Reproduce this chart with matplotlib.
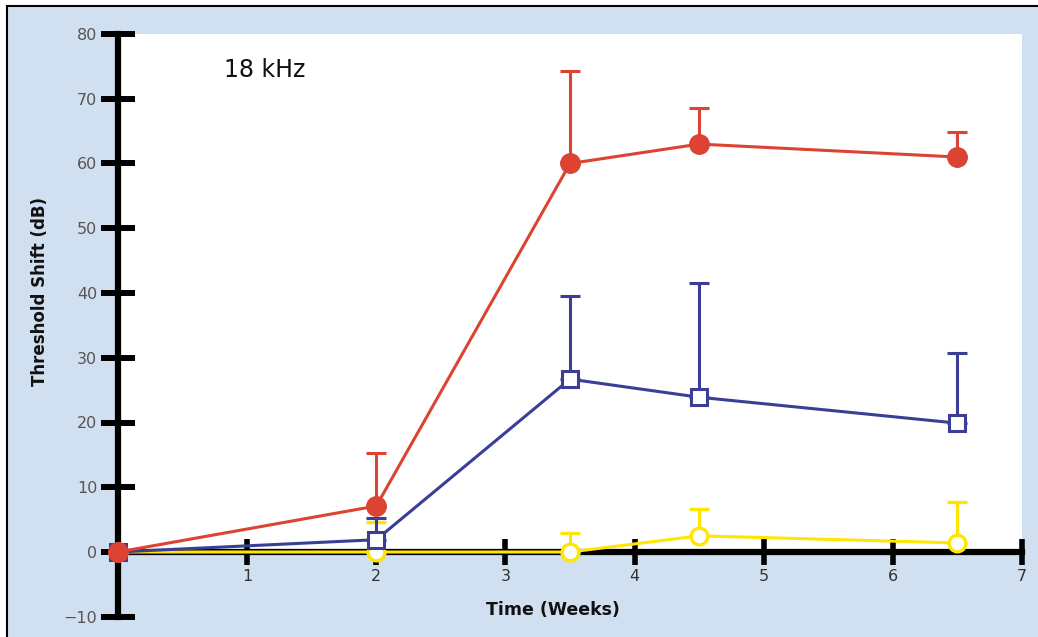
import numpy as np
import matplotlib.pyplot as plt
from matplotlib.patches import Rectangle

# weeks after exposure, threshold shift at 18 kHz (mean and upper SD)
weeks = [0, 2, 3.5, 4.5, 6.5]
red_mean = [0, 7.1, 60, 63, 61]
red_err = [0, 8.2, 14.3, 5.6, 3.9]
blue_weeks = [0, 2, 3.5, 4.5, 6.5]
blue_mean = [0, 1.9, 26.7, 23.9, 19.9]
blue_err = [0, 3.3, 12.8, 17.6, 10.8]
yellow_mean = [0, 0, 0, 2.5, 1.4]
yellow_err = [0, 4.6, 2.9, 4.1, 6.3]

xticks = [1, 2, 3, 4, 5, 6, 7]
yticks = [-10, 0, 10, 20, 30, 40, 50, 60, 70, 80]

RED = '#dc4332'
BLUE = '#3a3f95'
YELLOW = '#ffe600'
BG = '#d1e0f0'

fig = plt.figure(figsize=(10.38, 6.37), dpi=100)
fig.patch.set_facecolor('white')
fig.patches.append(Rectangle((7 / 1038, -0.05), 1.1, 1.05 - 6.5 / 637,
                             transform=fig.transFigure, facecolor=BG,
                             edgecolor='black', lw=1.5, zorder=-10))

ax = fig.add_axes([118 / 1038, 1 - 616.75 / 637, 904 / 1038, 582.75 / 637])
ax.set_facecolor('none')
ax.set_xlim(0, 7)
ax.set_ylim(-10, 80)

# white plotting panel above the zero line
ax.add_patch(Rectangle((0, 0), 7, 80, facecolor='white', edgecolor='none', zorder=0))

for s in ['top', 'right']:
    ax.spines[s].set_visible(False)
ax.spines['bottom'].set_position(('data', 0))
ax.spines['left'].set_linewidth(4.5)
ax.spines['bottom'].set_linewidth(4.5)
ax.spines['left'].set_zorder(1)
ax.spines['bottom'].set_zorder(1)

ax.set_xticks(xticks)
ax.set_yticks(yticks)
ax.set_yticklabels(['\u221210' if t < 0 else str(t) for t in yticks])
ax.tick_params(axis='y', direction='inout', length=24, width=4.3, pad=3,
               labelsize=11.5, labelcolor='#555555')
ax.tick_params(axis='x', direction='inout', length=19, width=4, pad=3,
               labelsize=11.5, labelcolor='#333333')

ebkw = dict(lw=2.2, elinewidth=2.2, capsize=7, capthick=2.2, clip_on=False)

# yellow: open circles
ax.errorbar(weeks, yellow_mean, yerr=[np.zeros(5), yellow_err], color=YELLOW,
            marker='o', ms=12, mfc='white', mec=YELLOW, mew=2.4, zorder=3, **ebkw)
# blue: open squares
ax.errorbar(blue_weeks, blue_mean, yerr=[np.zeros(5), blue_err], color=BLUE,
            marker='s', ms=12, mfc='white', mec=BLUE, mew=2.2, zorder=4, **ebkw)
# red: filled circles
ax.errorbar(weeks, red_mean, yerr=[np.zeros(5), red_err], color=RED,
            marker='o', ms=14, mfc=RED, mec=RED, zorder=5, **ebkw)

ax.text(0.82, 74.5, '18 kHz', fontsize=17, color='#111111', ha='left', va='center')

fig.text(553 / 1038, 1 - 610 / 637, 'Time (Weeks)', fontsize=12.5, fontweight='bold',
         ha='center', va='center', color='#111111')
fig.text(40 / 1038, 1 - 292 / 637, 'Threshold Shift (dB)', fontsize=12,
         fontweight='bold', rotation=90, ha='center', va='center', color='#111111')

fig.savefig('out.png', dpi=100, facecolor=fig.get_facecolor())
